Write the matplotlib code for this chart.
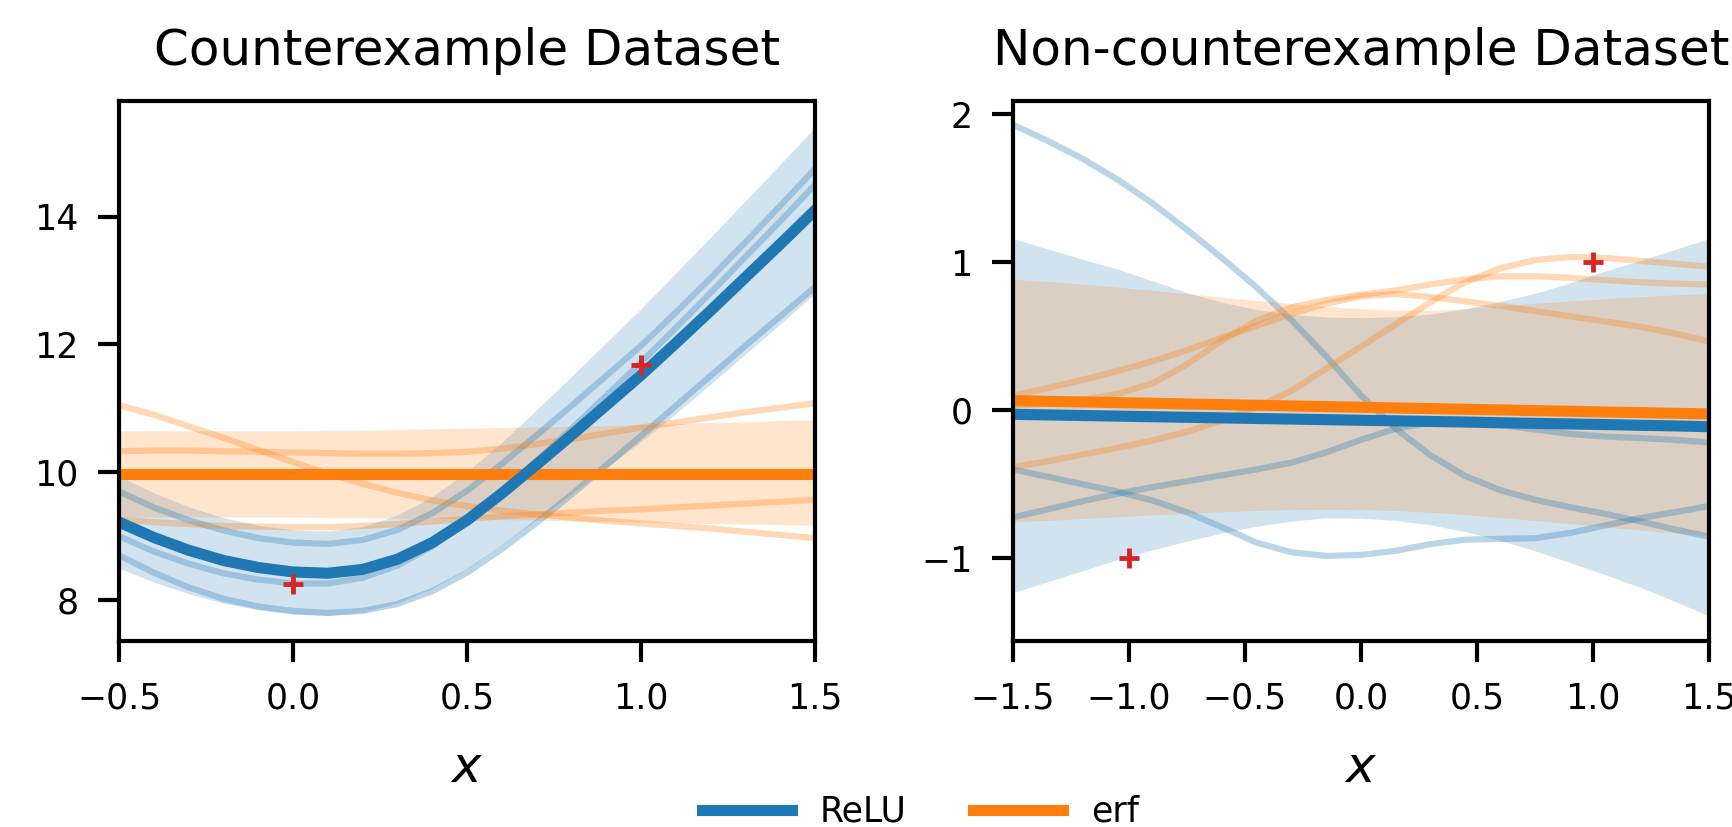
import matplotlib
matplotlib.use("Agg")
import matplotlib.pyplot as plt

plt.rcParams['font.family'] = ['DejaVu Sans']
plt.rcParams['mathtext.fontset'] = 'dejavusans'

BLUE = '#1f77b4'
ORANGE = '#ff7f0e'
RED = '#d62728'

# ---------------- left panel: counterexample dataset ----------------
xl = [-0.5, -0.4, -0.3, -0.2, -0.1, 0.0, 0.1, 0.2, 0.3, 0.4, 0.5,
      0.6, 0.7, 0.8, 0.9, 1.0, 1.1, 1.2, 1.3, 1.4, 1.5]
train_x_l = [0.0, 1.0]
train_y_l = [8.25, 11.68]

relu_mean_l = [9.22, 8.98, 8.78, 8.62, 8.51, 8.44, 8.42, 8.48, 8.64, 8.90, 9.25,
               9.67, 10.12, 10.58, 11.05, 11.52, 12.02, 12.53, 13.05, 13.57, 14.10]
relu_sd_l = [0.72, 0.70, 0.68, 0.67, 0.66, 0.66, 0.66, 0.67, 0.69, 0.72, 0.76,
             0.80, 0.86, 0.92, 0.98, 1.04, 1.10, 1.15, 1.20, 1.25, 1.30]
relu_samples_l = [
    [9.70, 9.45, 9.25, 9.09, 8.97, 8.90, 8.88, 8.94, 9.10, 9.36, 9.71,
     10.13, 10.58, 11.04, 11.51, 11.98, 12.50, 13.04, 13.60, 14.17, 14.75],
    [9.00, 8.76, 8.57, 8.42, 8.32, 8.26, 8.26, 8.35, 8.54, 8.84, 9.23,
     9.69, 10.18, 10.68, 11.20, 11.72, 12.26, 12.81, 13.37, 13.93, 14.50],
    [8.70, 8.43, 8.20, 8.02, 7.90, 7.83, 7.80, 7.83, 7.94, 8.14, 8.43,
     8.80, 9.21, 9.65, 10.11, 10.57, 11.04, 11.51, 11.98, 12.44, 12.90],
]
erf_mean_l = [9.97] * 21
erf_lo_l = [9.30, 9.30, 9.30, 9.30, 9.30, 9.30, 9.29, 9.29, 9.28, 9.28, 9.27,
            9.26, 9.25, 9.24, 9.23, 9.22, 9.21, 9.20, 9.19, 9.18, 9.17]
erf_hi_l = [10.65, 10.65, 10.65, 10.65, 10.65, 10.65, 10.66, 10.66, 10.67, 10.68, 10.69,
            10.70, 10.71, 10.72, 10.73, 10.75, 10.76, 10.78, 10.79, 10.81, 10.82]
erf_samples_l = [
    [11.05, 10.90, 10.72, 10.54, 10.35, 10.16, 9.98, 9.82, 9.68, 9.56, 9.47,
     9.40, 9.34, 9.29, 9.24, 9.20, 9.16, 9.12, 9.07, 9.02, 8.97],
    [10.33, 10.34, 10.34, 10.33, 10.32, 10.31, 10.30, 10.29, 10.29, 10.30, 10.32,
     10.37, 10.44, 10.52, 10.61, 10.70, 10.78, 10.86, 10.94, 11.01, 11.08],
    [9.26, 9.22, 9.19, 9.16, 9.15, 9.14, 9.14, 9.16, 9.19, 9.23, 9.27,
     9.31, 9.34, 9.37, 9.40, 9.42, 9.45, 9.48, 9.51, 9.54, 9.57],
]

# ---------------- right panel: non-counterexample dataset ----------------
xr = [-1.5, -1.35, -1.2, -1.05, -0.9, -0.75, -0.6, -0.45, -0.3, -0.15, 0.0,
      0.15, 0.3, 0.45, 0.6, 0.75, 0.9, 1.05, 1.2, 1.35, 1.5]
train_x_r = [-1.0, 1.0]
train_y_r = [-1.0, 1.0]

relu_mean_r = [-0.028, -0.032, -0.036, -0.040, -0.044, -0.048, -0.052, -0.056, -0.060, -0.064, -0.068,
               -0.072, -0.076, -0.080, -0.085, -0.089, -0.093, -0.097, -0.102, -0.106, -0.112]
relu_lo_r = [-1.232, -1.16, -1.085, -1.01, -0.945, -0.885, -0.83, -0.785, -0.75, -0.727, -0.73,
             -0.745, -0.775, -0.82, -0.88, -0.95, -1.03, -1.11, -1.195, -1.29, -1.39]
relu_hi_r = [1.16, 1.09, 1.02, 0.955, 0.875, 0.795, 0.73, 0.68, 0.648, 0.63, 0.625,
             0.632, 0.65, 0.685, 0.735, 0.79, 0.86, 0.94, 1.01, 1.085, 1.16]
relu_samples_r = [
    [1.93, 1.82, 1.70, 1.56, 1.40, 1.22, 1.03, 0.83, 0.61, 0.365, 0.10,
     -0.125, -0.305, -0.445, -0.54, -0.605, -0.655, -0.70, -0.75, -0.805, -0.855],
    [-0.40, -0.45, -0.50, -0.55, -0.61, -0.69, -0.79, -0.895, -0.96, -0.985, -0.978,
     -0.95, -0.905, -0.875, -0.87, -0.865, -0.83, -0.78, -0.73, -0.69, -0.648],
    [-0.725, -0.67, -0.615, -0.565, -0.52, -0.48, -0.44, -0.40, -0.355, -0.285, -0.20,
     -0.125, -0.085, -0.08, -0.10, -0.13, -0.16, -0.178, -0.188, -0.20, -0.218],
]
erf_mean_r = [0.065, 0.060, 0.056, 0.051, 0.047, 0.042, 0.038, 0.033, 0.029, 0.024, 0.020,
              0.015, 0.011, 0.006, 0.002, -0.003, -0.007, -0.012, -0.016, -0.021, -0.025]
erf_lo_r = [-0.757, -0.745, -0.733, -0.72, -0.708, -0.697, -0.687, -0.678, -0.672, -0.67, -0.672,
            -0.678, -0.69, -0.706, -0.725, -0.746, -0.767, -0.788, -0.81, -0.83, -0.849]
erf_hi_r = [0.885, 0.87, 0.852, 0.832, 0.81, 0.787, 0.765, 0.742, 0.72, 0.70, 0.685,
            0.677, 0.675, 0.685, 0.705, 0.722, 0.738, 0.753, 0.767, 0.779, 0.79]
erf_samples_r = [
    [0.097, 0.15, 0.205, 0.265, 0.33, 0.405, 0.49, 0.57, 0.65, 0.72, 0.77,
     0.785, 0.765, 0.735, 0.705, 0.67, 0.635, 0.60, 0.565, 0.52, 0.465],
    [0.03, 0.045, 0.07, 0.11, 0.18, 0.31, 0.47, 0.605, 0.695, 0.745, 0.78,
     0.81, 0.85, 0.885, 0.905, 0.905, 0.895, 0.88, 0.865, 0.855, 0.85],
    [-0.385, -0.345, -0.30, -0.255, -0.205, -0.145, -0.07, 0.02, 0.13, 0.28, 0.43,
     0.58, 0.73, 0.865, 0.96, 1.015, 1.035, 1.03, 1.01, 0.99, 0.97],
]


def panel(ax, x, r_mean, r_lo, r_hi, r_samp, e_mean, e_lo, e_hi, e_samp, tx, ty):
    ax.fill_between(x, r_lo, r_hi, color=BLUE, alpha=0.2, lw=0)
    ax.fill_between(x, e_lo, e_hi, color=ORANGE, alpha=0.2, lw=0)
    for s in r_samp:
        ax.plot(x, s, color=BLUE, alpha=0.3, lw=4.5)
    for s in e_samp:
        ax.plot(x, s, color=ORANGE, alpha=0.3, lw=4.5)
    ax.plot(x, e_mean, color=ORANGE, lw=8, label='erf')
    ax.plot(x, r_mean, color=BLUE, lw=8, label='ReLU')
    ax.plot(tx, ty, '+', color=RED, ms=15, mew=3.5)
    ax.set_xlim(x[0], x[-1])
    ax.set_xlabel('$x$', fontsize=36, labelpad=21)
    ax.tick_params(labelsize=25, length=15, width=3, pad=14)
    for sp in ax.spines.values():
        sp.set_linewidth(3)


fig = plt.figure(figsize=(17.33, 8.27), dpi=100)
ax1 = fig.add_axes([0.0687, 0.2249, 0.4016, 0.653])
ax2 = fig.add_axes([0.5845, 0.2249, 0.4016, 0.653])

lo_l = [m - s for m, s in zip(relu_mean_l, relu_sd_l)]
hi_l = [m + s for m, s in zip(relu_mean_l, relu_sd_l)]
panel(ax1, xl, relu_mean_l, lo_l, hi_l, relu_samples_l,
      erf_mean_l, erf_lo_l, erf_hi_l, erf_samples_l, train_x_l, train_y_l)
ax1.set_ylim(7.36, 15.81)
ax1.set_xticks([-0.5, 0.0, 0.5, 1.0, 1.5])
ax1.set_yticks([8, 10, 12, 14])
ax1.set_title('Counterexample Dataset', fontsize=36, pad=26)

panel(ax2, xr, relu_mean_r, relu_lo_r, relu_hi_r, relu_samples_r,
      erf_mean_r, erf_lo_r, erf_hi_r, erf_samples_r, train_x_r, train_y_r)
ax2.set_ylim(-1.56, 2.09)
ax2.set_xticks([-1.5, -1.0, -0.5, 0.0, 0.5, 1.0, 1.5])
ax2.set_yticks([-1, 0, 1, 2])
ax2.set_title('Non-counterexample Dataset', fontsize=36, pad=26)

h, l = ax1.get_legend_handles_labels()
fig.legend(h[::-1], l[::-1], loc='lower center', bbox_to_anchor=(0.531, -0.04),
           ncol=2, frameon=False, fontsize=25, handlelength=2.6, columnspacing=1.9)

fig.savefig('out.png', dpi=100)
